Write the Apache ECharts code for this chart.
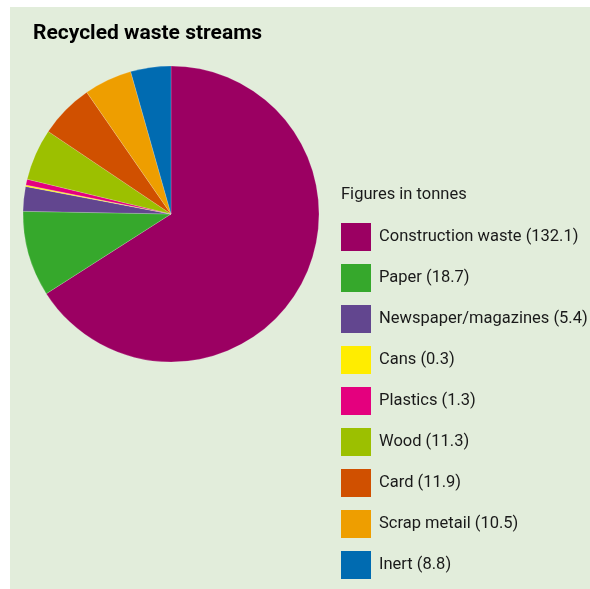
<!DOCTYPE html>
<html>
<head>
<meta charset="utf-8">
<script src="https://cdn.jsdelivr.net/npm/echarts@6/dist/echarts.min.js"></script>
<style>
html,body{margin:0;padding:0;background:#fff;}
#c{width:590px;height:589px;}
</style>
</head>
<body>
<div id="c"></div>
<script>
const categories = ['Construction waste', 'Paper', 'Newspaper/magazines', 'Cans', 'Plastics', 'Wood', 'Card', 'Scrap metail', 'Inert'];
const values = [132.1, 18.7, 5.4, 0.3, 1.3, 11.3, 11.9, 10.5, 8.8];
const colors = ['#9b0062', '#36a82c', '#62468f', '#ffed00', '#e4007e', '#9cc000', '#d05000', '#ee9e00', '#006bb1'];
const titleText = 'Recycled waste streams';
const legendTitle = 'Figures in tonnes';

const FONT = "Roboto, 'Liberation Sans', sans-serif";
const chart = echarts.init(document.getElementById('c'));
const valueMap = {};
categories.forEach((c, i) => valueMap[c] = values[i]);

chart.setOption({
  backgroundColor: '#ffffff',
  animation: false,
  graphic: [
    { type: 'rect', z: -10, shape: { x: 10, y: 7, width: 580, height: 582 }, style: { fill: '#e2eddb' } }
  ],
  title: [
    { text: titleText, left: 33, top: 23, padding: 0, textStyle: { fontFamily: FONT, fontWeight: 'bold', fontSize: 21, color: '#000' } },
    { text: legendTitle, left: 341, top: 186, padding: 0, textStyle: { fontFamily: FONT, fontWeight: 'normal', fontSize: 16.5, color: '#1a1a1a' } }
  ],
  legend: {
    orient: 'vertical',
    left: 341,
    top: 223,
    padding: 0,
    itemWidth: 30,
    itemHeight: 28,
    itemGap: 13,
    icon: 'rect',
    itemStyle: { borderWidth: 0 },
    data: categories,
    formatter: name => name + ' (' + valueMap[name] + ')',
    textStyle: { fontFamily: FONT, fontSize: 16.5, color: '#1a1a1a', padding: [0, 0, 0, 3] },
    selectedMode: false
  },
  series: [{
    type: 'pie',
    center: [171, 214],
    radius: [0, 148],
    startAngle: 90,
    clockwise: true,
    label: { show: false },
    labelLine: { show: false },
    itemStyle: { borderColor: 'rgba(255,255,255,0.35)', borderWidth: 0.5 },
    emphasis: { disabled: true },
    data: categories.map((c, i) => ({ name: c, value: values[i], itemStyle: { color: colors[i] } }))
  }]
});
</script>
</body>
</html>
